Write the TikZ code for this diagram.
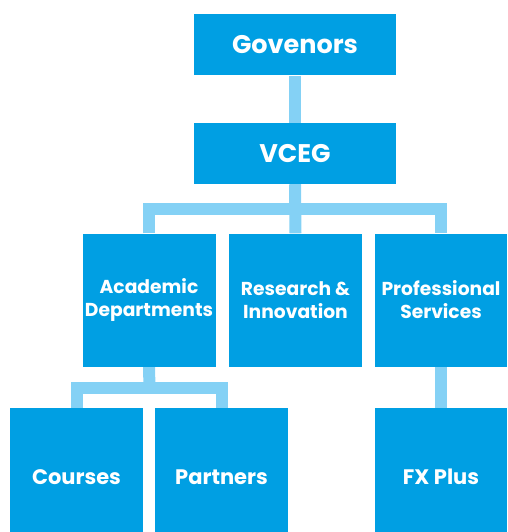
\documentclass[tikz,border=0pt]{standalone}
\usepackage{fontspec}
\setmainfont{Poppins}
\usetikzlibrary{backgrounds}
\definecolor{boxblue}{HTML}{009FE3}
\definecolor{linkblue}{HTML}{84D1F5}
\begin{document}
\begin{tikzpicture}[x=1pt,y=-1pt,
  unit/.style={fill=boxblue, text=white, inner sep=0pt, align=center,
    font=\bfseries},
  toprow/.style={unit, minimum width=202pt, minimum height=61pt,
    font=\fontsize{25.5}{28}\selectfont\bfseries},
  midrow/.style={unit, minimum width=133pt, minimum height=133pt,
    font=\fontsize{18.7}{23}\selectfont\bfseries},
  lowrow/.style={unit, minimum width=133pt, minimum height=138pt,
    font=\fontsize{21}{24}\selectfont\bfseries},
  link/.style={draw=linkblue, line width=12pt, line join=miter}]
\clip (0,0) rectangle (507,532);

% Board and executive
\node[toprow] (gov)  at (295,45)    {Govenors};
\node[toprow] (vceg) at (295,153.5) {VCEG};

% Divisions
\node[midrow] (acad) at (149,300)   {Academic\\Departments};
\node[midrow] (res)  at (295.5,300) {Research \&\\Innovation};
\node[midrow, minimum width=132pt] (prof) at (441,300) {Professional\\Services};

% Units below the divisions
\node[lowrow] (courses)  at (76.5,477)  {Courses};
\node[lowrow] (partners) at (221.5,477) {Partners};
\node[lowrow, minimum width=132pt] (fx) at (441,477) {FX Plus};

\coordinate (bus1) at (294,209);
\coordinate (bus2) at (149.5,388);

\begin{scope}[on background layer]
  \draw[link] (gov.south) -- (vceg.north);
  \draw[link] (vceg.south) -- (res.north);
  \draw[link] (acad.north) |- (bus1) -| (prof.north);
  \draw[link] (acad.south) -- (bus2);
  \draw[link] (courses.north) |- (bus2) -| (partners.north);
  \draw[link] (prof.south) -- (fx.north);
\end{scope}
\end{tikzpicture}
\end{document}
